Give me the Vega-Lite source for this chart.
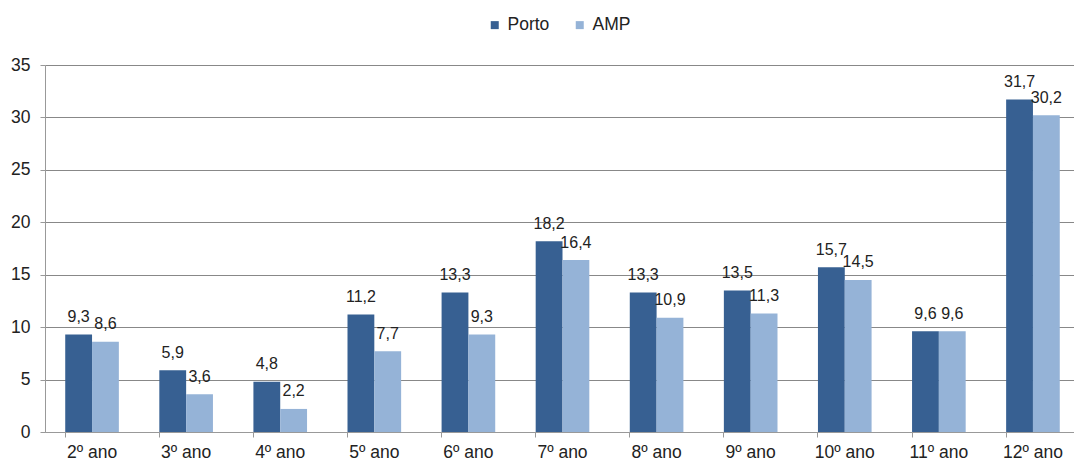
{
  "$schema": "https://vega.github.io/schema/vega-lite/v6.json",
  "width": 1074,
  "height": 461,
  "autosize": {"type": "fit", "contains": "padding"},
  "padding": {"left": 10, "right": -6, "top": 56, "bottom": 0},
  "background": "white",
  "config": {
    "font": "Liberation Sans",
    "view": {"stroke": null}
  },
  "data": {
    "values": [
      {"ano": "2º ano", "serie": "Porto", "valor": 9.3, "rotulo": "9,3"},
      {"ano": "2º ano", "serie": "AMP", "valor": 8.6, "rotulo": "8,6"},
      {"ano": "3º ano", "serie": "Porto", "valor": 5.9, "rotulo": "5,9"},
      {"ano": "3º ano", "serie": "AMP", "valor": 3.6, "rotulo": "3,6"},
      {"ano": "4º ano", "serie": "Porto", "valor": 4.8, "rotulo": "4,8"},
      {"ano": "4º ano", "serie": "AMP", "valor": 2.2, "rotulo": "2,2"},
      {"ano": "5º ano", "serie": "Porto", "valor": 11.2, "rotulo": "11,2"},
      {"ano": "5º ano", "serie": "AMP", "valor": 7.7, "rotulo": "7,7"},
      {"ano": "6º ano", "serie": "Porto", "valor": 13.3, "rotulo": "13,3"},
      {"ano": "6º ano", "serie": "AMP", "valor": 9.3, "rotulo": "9,3"},
      {"ano": "7º ano", "serie": "Porto", "valor": 18.2, "rotulo": "18,2"},
      {"ano": "7º ano", "serie": "AMP", "valor": 16.4, "rotulo": "16,4"},
      {"ano": "8º ano", "serie": "Porto", "valor": 13.3, "rotulo": "13,3"},
      {"ano": "8º ano", "serie": "AMP", "valor": 10.9, "rotulo": "10,9"},
      {"ano": "9º ano", "serie": "Porto", "valor": 13.5, "rotulo": "13,5"},
      {"ano": "9º ano", "serie": "AMP", "valor": 11.3, "rotulo": "11,3"},
      {"ano": "10º ano", "serie": "Porto", "valor": 15.7, "rotulo": "15,7"},
      {"ano": "10º ano", "serie": "AMP", "valor": 14.5, "rotulo": "14,5"},
      {"ano": "11º ano", "serie": "Porto", "valor": 9.6, "rotulo": "9,6"},
      {"ano": "11º ano", "serie": "AMP", "valor": 9.6, "rotulo": "9,6"},
      {"ano": "12º ano", "serie": "Porto", "valor": 31.7, "rotulo": "31,7"},
      {"ano": "12º ano", "serie": "AMP", "valor": 30.2, "rotulo": "30,2"}
    ]
  },
  "encoding": {
    "x": {
      "field": "ano",
      "type": "nominal",
      "sort": null,
      "scale": {"paddingInner": 0.43, "paddingOuter": 0.215},
      "axis": {
        "title": null,
        "labelAngle": 0,
        "labelFontSize": 17.5,
        "labelColor": "#222222",
        "labelPadding": 6,
        "bandPosition": 0,
        "tickSize": 5,
        "tickColor": "#999999",
        "domainColor": "#999999",
        "grid": false
      }
    },
    "xOffset": {"field": "serie", "type": "nominal", "sort": ["Porto", "AMP"], "scale": {"paddingInner": 0}},
    "y": {
      "field": "valor",
      "type": "quantitative",
      "scale": {"domain": [0, 35]},
      "axis": {
        "title": null,
        "values": [0, 5, 10, 15, 20, 25, 30, 35],
        "labelFontSize": 17.5,
        "labelColor": "#222222",
        "labelPadding": 10,
        "tickSize": 5,
        "tickColor": "#999999",
        "domainColor": "#999999",
        "gridColor": "#888888",
        "gridWidth": 1
      }
    }
  },
  "layer": [
    {
      "mark": {"type": "bar"},
      "encoding": {
        "color": {
          "field": "serie",
          "type": "nominal",
          "sort": ["Porto", "AMP"],
          "scale": {"domain": ["Porto", "AMP"], "range": ["#376092", "#95b3d7"]},
          "legend": {
            "title": null,
            "orient": "none",
            "legendX": 441,
            "legendY": -49,
            "direction": "horizontal",
            "symbolType": "square",
            "symbolSize": 64,
            "symbolStrokeWidth": 0,
            "labelFontSize": 17.5,
            "labelColor": "#222222",
            "columnPadding": 21,
            "labelOffset": 4
          }
        }
      }
    },
    {
      "mark": {"type": "text", "baseline": "alphabetic", "dy": -12.5, "fontSize": 16, "color": "#222222"},
      "encoding": {
        "text": {"field": "rotulo", "type": "nominal"}
      }
    }
  ]
}
